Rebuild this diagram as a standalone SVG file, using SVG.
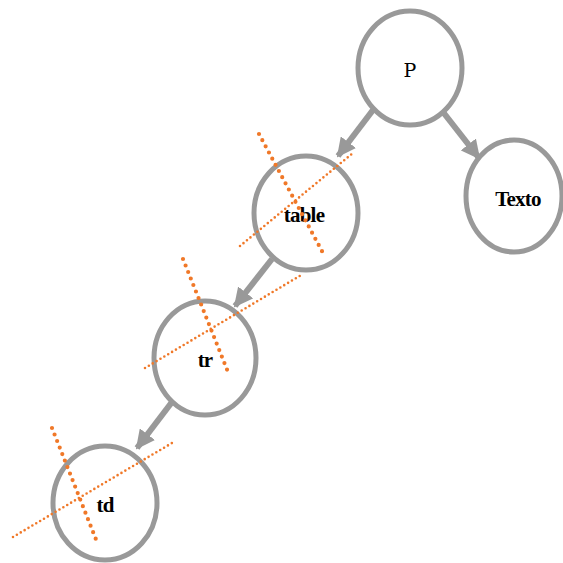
<svg xmlns="http://www.w3.org/2000/svg" width="563" height="563" viewBox="0 0 563 563">
<style>
.node{fill:#fff;stroke:#999;stroke-width:5}
.lbl{font-family:"Liberation Serif",serif;font-weight:bold;font-size:21px;fill:#000;text-anchor:middle;letter-spacing:-0.8px}
.plbl{font-family:"DejaVu Serif","Liberation Serif",serif;font-size:19px;fill:#000;text-anchor:middle}
.edge{stroke:#999;stroke-width:6;fill:none}
.cut1{stroke:#f07828;stroke-width:4.2;stroke-dasharray:0 7;stroke-linecap:round;fill:none}
.cut2{stroke:#f07828;stroke-width:2.6;stroke-dasharray:0 4.5;stroke-linecap:round;fill:none}
</style>
<defs>
<marker id="arr" viewBox="0 0 10 10" refX="9" refY="5" markerWidth="3.2" markerHeight="3.2" orient="auto" markerUnits="strokeWidth">
<path d="M0,0 L10,5 L0,10 z" fill="#999"/>
</marker>
</defs>
<g id="connectors">
<line class="edge" x1="373" y1="110" x2="338" y2="156" marker-end="url(#arr)"/>
<line class="edge" x1="443" y1="112" x2="479" y2="158" marker-end="url(#arr)"/>
<line class="edge" x1="272" y1="259" x2="235" y2="306" marker-end="url(#arr)"/>
<line class="edge" x1="172" y1="402" x2="137" y2="448" marker-end="url(#arr)"/>
</g>
<g id="P">
<ellipse class="node" cx="410" cy="68" rx="52" ry="57"/>
<text class="plbl" x="410" y="77">P</text>
</g>
<g id="Texto">
<ellipse class="node" cx="514" cy="196" rx="48" ry="56"/>
<text class="lbl" x="518" y="206">Texto</text>
</g>
<g id="table">
<ellipse class="node" cx="306" cy="213" rx="52" ry="57"/>
<text class="lbl" x="304" y="222">table</text>
</g>
<g id="tr">
<ellipse class="node" cx="205" cy="358" rx="51" ry="57"/>
<text class="lbl" x="205" y="367">tr</text>
</g>
<g id="td">
<ellipse class="node" cx="105" cy="503" rx="52" ry="57"/>
<text class="lbl" x="105" y="512">td</text>
</g>
<g id="cuts">
<line class="cut1" x1="259" y1="134" x2="323" y2="253"/>
<line class="cut2" x1="240" y1="246" x2="353" y2="153"/>
<line class="cut1" x1="183" y1="259" x2="228" y2="372"/>
<line class="cut2" x1="145" y1="368" x2="303" y2="274"/>
<line class="cut1" x1="52" y1="428" x2="97" y2="542"/>
<line class="cut2" x1="13" y1="537" x2="172" y2="443"/>
</g>
</svg>
